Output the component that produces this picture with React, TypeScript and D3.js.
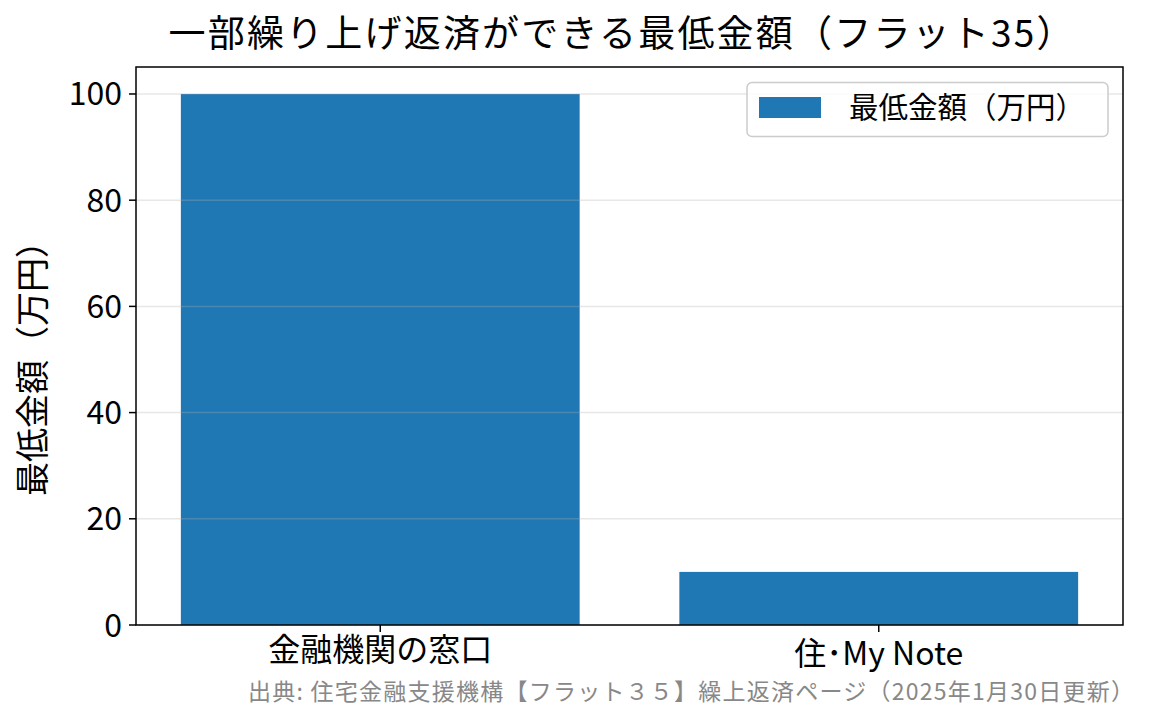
import React from "react";
import * as d3 from "d3";

const categories = ["金融機関の窓口", "住･My Note"];
const values = [100, 10];
const yTicks = [0, 20, 40, 60, 80, 100];
const title = "一部繰り上げ返済ができる最低金額（フラット35）";
const yLabel = "最低金額（万円）";
const legendLabel = "最低金額（万円）";
const sourceNote = "出典: 住宅金融支援機構【フラット３５】繰上返済ページ（2025年1月30日更新）";

const W = 1165;
const H = 725;
const FONT = "'Noto Sans CJK JP', 'Noto Sans', sans-serif";
const BLUE = "#1f77b4";

export default function App() {
  const left = 136, right = 1123, top = 67, bottom = 625;
  const x = d3.scaleLinear().domain([-0.49, 1.49]).range([left, right]);
  const y = d3.scaleLinear().domain([0, 105.08]).range([bottom, top]);
  const bw = 0.8;
  return (
    <svg width={W} height={H} style={{ position: "absolute", left: 0, top: 0, background: "#fff" }}>
      <rect x={0} y={0} width={W} height={H} fill="#fff" />
      <text x={621} y={47} textAnchor="middle" fontFamily={FONT} fontSize={37} fill="#000" textLength={905} lengthAdjust="spacing">{title}</text>
      {categories.map((c, i) => (
        <rect key={c} x={x(i - bw / 2)} y={y(values[i])} width={x(i + bw / 2) - x(i - bw / 2)} height={y(0) - y(values[i])} fill={BLUE} />
      ))}
      {yTicks.map((t) => (
        <g key={t}>
          <line x1={left} x2={right} y1={y(t)} y2={y(t)} stroke="#b0b0b0" strokeOpacity={0.3} strokeWidth={1.5} />
          <line x1={left - 7} x2={left} y1={y(t)} y2={y(t)} stroke="#000" strokeWidth={1.5} />
          <text x={left - 14} y={y(t)} dy="0.36em" textAnchor="end" fontFamily={FONT} fontSize={32} fill="#000">{t}</text>
        </g>
      ))}
      {categories.map((c, i) => (
        <g key={"xt" + i}>
          <line x1={x(i)} x2={x(i)} y1={bottom} y2={bottom + 7} stroke="#000" strokeWidth={1.5} />
          <text x={x(i)} y={i === 0 ? 661 : 665} textAnchor="middle" fontFamily={FONT} fontSize={32} fill="#000">{c}</text>
        </g>
      ))}
      <rect x={left} y={top} width={right - left} height={bottom - top} fill="none" stroke="#000" strokeWidth={1.5} />
      <text transform={`translate(45,${360}) rotate(-90)`} textAnchor="middle" fontFamily={FONT} fontSize={34} fill="#000">{yLabel}</text>
      <g>
        <rect x={747} y={82.5} width={361} height={54} rx={5} fill="#fff" fillOpacity={0.8} stroke="#cccccc" strokeWidth={1.5} />
        <rect x={759} y={97} width={62} height={21} fill={BLUE} />
        <text x={849} y={118} fontFamily={FONT} fontSize={29.5} fill="#000">{legendLabel}</text>
      </g>
      <text x={1134} y={700} textAnchor="end" fontFamily={FONT} fontSize={23} fill="#888888" textLength={886} lengthAdjust="spacing">{sourceNote}</text>
    </svg>
  );
}
